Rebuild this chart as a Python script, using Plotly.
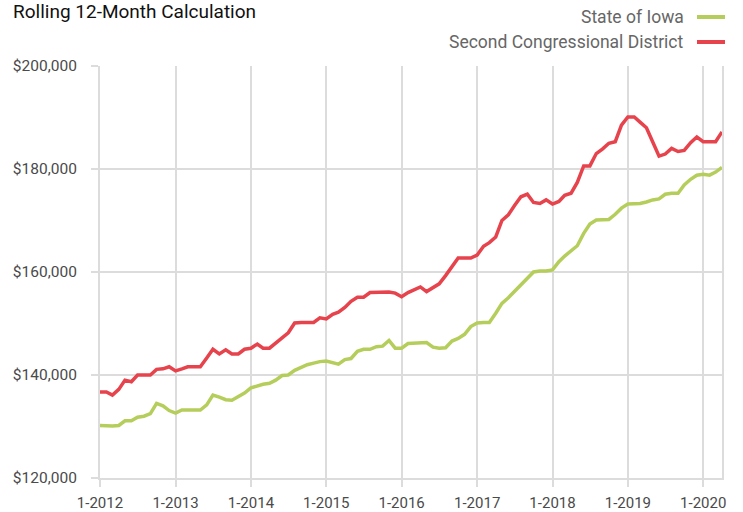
import pandas as pd
import plotly.graph_objects as go

months = pd.date_range("2012-01-01", periods=100, freq="MS")

district = [136.7, 136.7, 136.1, 137.2, 139.0, 138.7, 140.0, 140.0, 140.0, 141.1,
            141.2, 141.6, 140.8, 141.2, 141.6, 141.6, 141.6, 143.3, 145.0, 144.1,
            144.9, 144.1, 144.1, 145.0, 145.2, 146.0, 145.2, 145.2, 146.1, 147.2,
            148.2, 150.1, 150.2, 150.2, 150.2, 151.1, 150.9, 151.8, 152.2, 153.1,
            154.3, 155.1, 155.1, 156.0, 156.0, 156.0, 156.1, 155.9, 155.2, 156.0,
            156.6, 157.1, 156.2, 157.0, 157.7, 159.3, 161.0, 162.7, 162.7, 162.7,
            163.3, 165.0, 165.7, 166.8, 170.0, 171.1, 172.9, 174.6, 175.1, 173.5,
            173.3, 174.0, 173.2, 173.7, 174.9, 175.3, 177.4, 180.6, 180.6, 183.0,
            183.9, 185.0, 185.3, 188.5, 190.1, 190.1, 189.1, 188.0, 185.3, 182.5,
            182.9, 184.0, 183.4, 183.6, 185.1, 186.2, 185.3, 185.3, 185.3, 187.2]

iowa = [130.2, 130.1, 130.1, 130.2, 131.1, 131.1, 131.8, 132.0, 132.5, 134.5,
        134.0, 133.1, 132.6, 133.2, 133.2, 133.2, 133.2, 134.2, 136.1, 135.7,
        135.2, 135.1, 135.8, 136.5, 137.5, 137.9, 138.2, 138.4, 139.0, 139.9,
        140.0, 140.9, 141.4, 142.0, 142.3, 142.6, 142.7, 142.3, 142.1, 143.0,
        143.2, 144.6, 145.0, 145.0, 145.5, 145.6, 146.7, 145.2, 145.2, 146.1,
        146.2, 146.2, 146.3, 145.4, 145.2, 145.3, 146.6, 147.1, 147.9, 149.4,
        150.1, 150.2, 150.2, 152.0, 153.9, 155.0, 156.2, 157.6, 158.9, 160.0,
        160.2, 160.2, 160.4, 162.0, 163.1, 164.2, 165.1, 167.5, 169.3, 170.1,
        170.2, 170.2, 171.2, 172.4, 173.2, 173.3, 173.3, 173.6, 174.0, 174.2,
        175.1, 175.3, 175.3, 176.9, 178.0, 178.8, 179.0, 178.8, 179.4, 180.3]

district = [v * 1000 for v in district]
iowa = [v * 1000 for v in iowa]

series_names = ["State of Iowa", "Second Congressional District"]
RED = "#E6434C"
GREEN = "#B5CE5B"
GRID = "#DCDCDC"
FONT = "Roboto, Liberation Sans Narrow, sans-serif"

L, R, T, B = 100, 21, 66, 34
PW, PH = 743 - L - R, 512 - T - B

fig = go.Figure()
fig.add_trace(go.Scatter(x=months, y=iowa, mode="lines", name=series_names[0],
                         line=dict(color=GREEN, width=3.5), showlegend=False))
fig.add_trace(go.Scatter(x=months, y=district, mode="lines", name=series_names[1],
                         line=dict(color=RED, width=3.5), showlegend=False))

fig.update_layout(
    width=743, height=512,
    margin=dict(l=L, r=R, t=T, b=B, autoexpand=False),
    paper_bgcolor="white", plot_bgcolor="white",
    font=dict(family=FONT, color="#555555", size=14),
    xaxis=dict(
        range=["2012-01-01", "2020-04-01"],
        tick0="2012-01-01", dtick="M12", tickformat="%-m-%Y",
        showgrid=True, gridcolor=GRID, gridwidth=2,
        ticks="outside", ticklen=7, tickwidth=2, tickcolor=GRID,
        showline=True, linecolor=GRID, linewidth=2,
        zeroline=False, tickfont=dict(size=15, color="#4a4a4a"),
        ticklabelstandoff=3, automargin=False,
    ),
    yaxis=dict(
        range=[120000, 200000], dtick=20000,
        tickprefix="$", tickformat=",d",
        showgrid=True, gridcolor=GRID, gridwidth=2,
        ticks="outside", ticklen=7, tickwidth=2, tickcolor=GRID,
        showline=True, linecolor=GRID, linewidth=2, mirror=True,
        zeroline=False, tickfont=dict(size=15.5, color="#4a4a4a"),
        ticklabelstandoff=11, automargin=False,
    ),
)

def px_x(px):
    return (px - L) / PW

def px_y(py):
    return 1 + (T - py) / PH

fig.add_annotation(text="Rolling 12-Month Calculation", xref="paper", yref="paper",
                   x=px_x(11), y=px_y(-2), xanchor="left", yanchor="top",
                   showarrow=False,
                   font=dict(family=FONT, size=19, color="#111111"))

legend_colors = [GREEN, RED]
for i, (name, col) in enumerate(zip(series_names, legend_colors)):
    ypix = 17 + 25 * i
    fig.add_annotation(text=name, xref="paper", yref="paper",
                       x=px_x(686), y=px_y(ypix), xanchor="right", yanchor="middle",
                       showarrow=False, font=dict(family=FONT, size=17.5, color="#666666"))
    fig.add_shape(type="line", xref="paper", yref="paper",
                  x0=px_x(697), x1=px_x(725), y0=px_y(ypix), y1=px_y(ypix),
                  line=dict(color=col, width=4))

fig.write_html("out.html", config={"displayModeBar": False},
               post_script="document.body.style.margin='0px';")
